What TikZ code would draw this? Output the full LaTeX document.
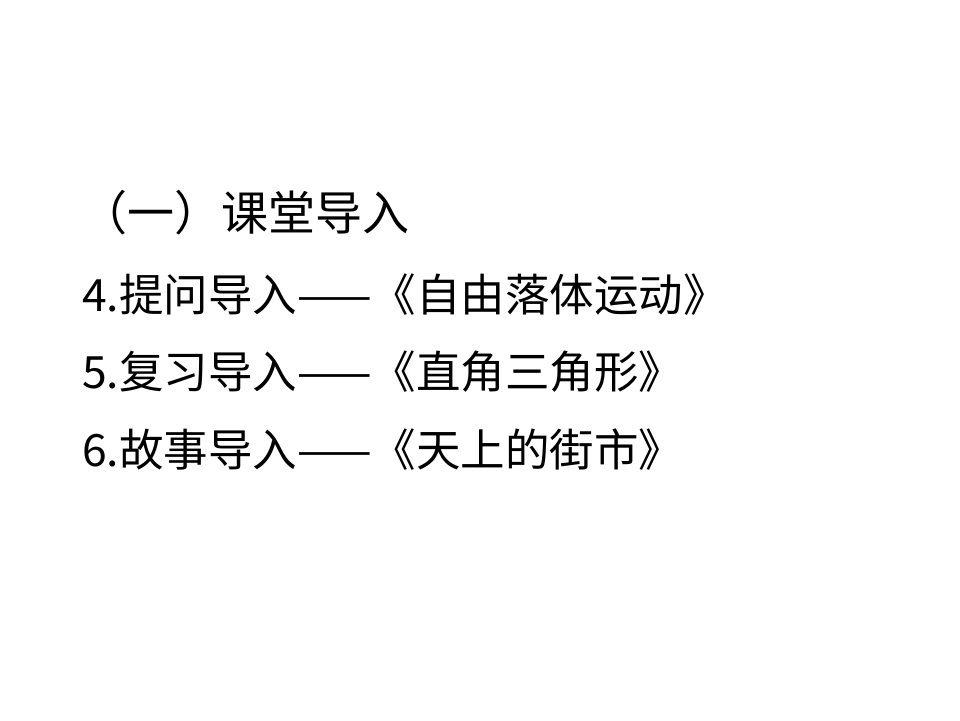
\documentclass[tikz,border=0pt]{standalone}
\usepackage{fontspec}
\newfontfamily\cjk{Noto Sans CJK SC}
\begin{document}
\begin{tikzpicture}[x=1pt,y=1pt,txt/.style={anchor=west,inner sep=0pt,font=\cjk\fontsize{44.5}{52}\selectfont}]
\useasboundingbox[fill=white] (0,0) rectangle (960,720);
\node[txt,font=\cjk\fontsize{47}{54}\selectfont] (t) at (80,720-213) {（一）课堂导入};
\node[txt] (a) at (82,720-295) {4.提问导入——《自由落体运动》};
\node[txt] (b) at (82,720-372) {5.复习导入——《直角三角形》};
\node[txt] (c) at (82,720-450) {6.故事导入——《天上的街市》};
\end{tikzpicture}
\end{document}
